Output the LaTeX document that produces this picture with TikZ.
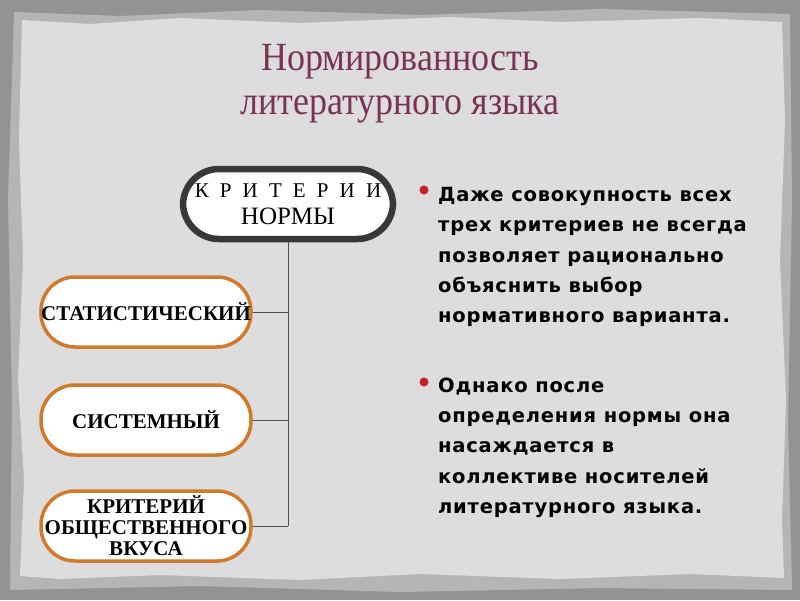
\documentclass[tikz,border=0pt]{standalone}
\usepackage{fontspec}
\setmainfont{Liberation Serif}
\newfontfamily\bodyfont[LetterSpace=4]{DejaVu Sans}
\newfontfamily\spacedfont[LetterSpace=28]{Liberation Serif}
\definecolor{outerbg}{HTML}{939393}
\definecolor{paper}{HTML}{DDDDDD}
\definecolor{paperedge}{HTML}{B5B5B5}
\definecolor{titlecol}{HTML}{7B3355}
\definecolor{orangeb}{HTML}{D17A2C}
\definecolor{darkb}{HTML}{383838}
\definecolor{linecol}{HTML}{505050}
\definecolor{bulletred}{HTML}{C4222C}
\tikzset{
  topbox/.style={draw=darkb, line width=6.5pt, fill=white, rounded corners=36pt,
    minimum width=210pt, minimum height=70pt, align=center, inner sep=0pt,
    font=\fontsize{21}{27}\selectfont},
  critbox/.style={draw=orangeb, line width=3.5pt, fill=white, rounded corners=34pt,
    minimum width=210pt, minimum height=70pt, align=center, inner sep=0pt,
    font=\fontsize{21}{21}\selectfont\bfseries},
  conn/.style={draw=linecol, line width=0.9pt},
  bodytext/.style={anchor=north west, align=left, inner sep=0pt,
    font=\fontsize{19.5}{30.3}\bodyfont\bfseries, text=black},
  bullet/.style={circle, fill=bulletred, inner sep=0pt, minimum size=9pt},
  titletext/.style={text=titlecol, font=\fontsize{40}{44}\selectfont, align=center, xscale=0.9}
}
\begin{document}
\begin{tikzpicture}[x=1pt,y=-1pt]
\useasboundingbox (0,0) rectangle (800,600);
\fill[outerbg] (0,0) rectangle (800,600);
\fill[paperedge] (14,12) -- (120,16) -- (260,10) -- (420,15) -- (600,9) -- (790,14)
  -- (792,200) -- (788,420) -- (792,590) -- (600,588) -- (400,592) -- (200,586) -- (10,590)
  -- (12,400) -- (8,200) -- cycle;
\fill[paper] (22,20) -- (90,24) -- (180,18) -- (300,23) -- (450,17) -- (560,22) -- (700,18) -- (782,22)
  -- (785,120) -- (780,260) -- (786,400) -- (782,520) -- (784,578) -- (690,574) -- (560,579)
  -- (420,574) -- (300,580) -- (160,575) -- (60,579) -- (20,576)
  -- (24,480) -- (18,380) -- (23,260) -- (19,140) -- cycle;

\node[titletext] (title) at (400,84) {Нормированность\\литературного языка};

\node[topbox] (top) at (288,204) {{\spacedfont К Р И Т Е Р И И}\\{\fontsize{25}{27}\selectfont НОРМЫ}};

\node[critbox] (stat) at (146,312) {СТАТИСТИЧЕСКИЙ};
\node[critbox] (sys) at (146,420) {СИСТЕМНЫЙ};
\node[critbox] (vkus) at (146,526) {КРИТЕРИЙ\\ОБЩЕСТВЕННОГО\\ВКУСА};

\coordinate (bend) at (288,526);
\draw[conn] (top.south) -- (bend);
\draw[conn] (stat.east) -- (stat.east -| bend);
\draw[conn] (sys.east) -- (sys.east -| bend);
\draw[conn] (vkus.east) -- (bend);

\node[bullet] (b1) at (424,190) {};
\node[bodytext] (t1) at (438,187) {Даже совокупность всех\\трех критериев не всегда\\позволяет рационально\\объяснить выбор\\нормативного варианта.};
\node[bullet] (b2) at (424,382) {};
\node[bodytext] (t2) at (438,377.5) {Однако после\\определения нормы она\\насаждается в\\коллективе носителей\\литературного языка.};
\end{tikzpicture}
\end{document}
